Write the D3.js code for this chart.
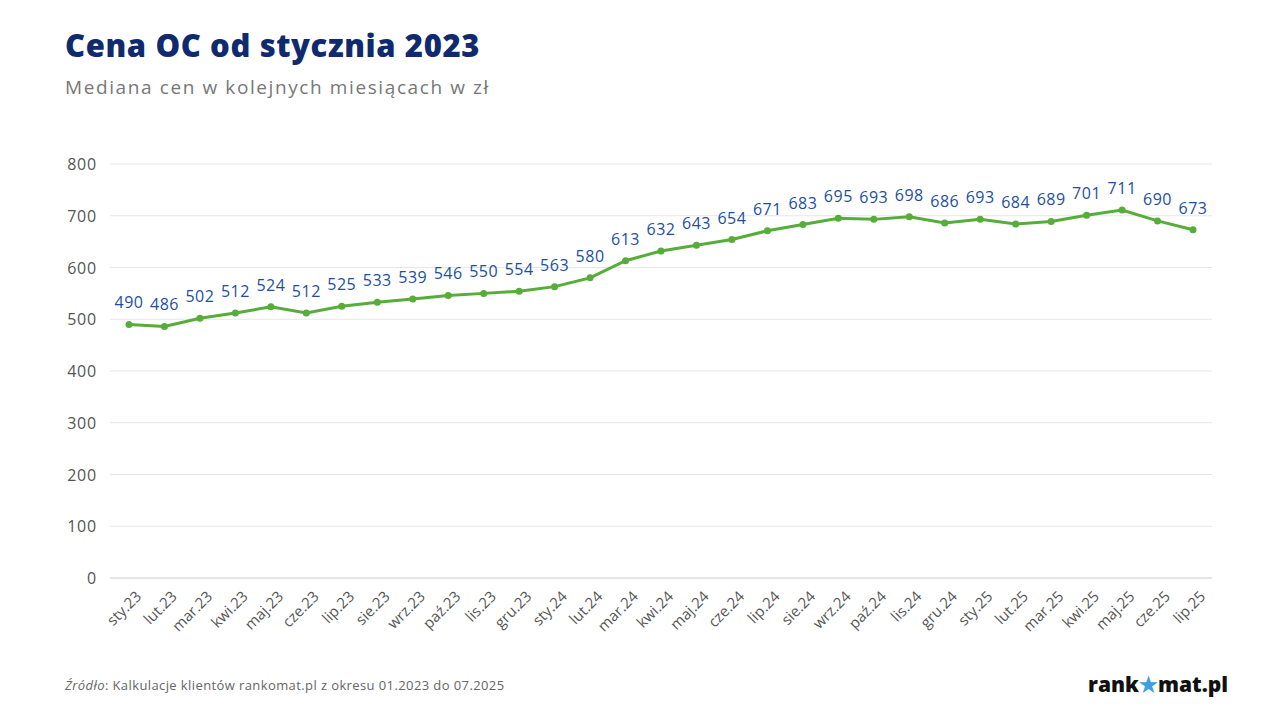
<!DOCTYPE html><html><head><meta charset="utf-8"><script src="https://cdn.jsdelivr.net/npm/d3@7"></script>
<style>body{margin:0;background:#fff;font-family:Montserrat,"Open Sans",sans-serif}</style></head><body><svg id="c" width="1280" height="720"></svg><script>
const months=["sty.23","lut.23","mar.23","kwi.23","maj.23","cze.23","lip.23","sie.23","wrz.23","paź.23","lis.23","gru.23","sty.24","lut.24","mar.24","kwi.24","maj.24","cze.24","lip.24","sie.24","wrz.24","paź.24","lis.24","gru.24","sty.25","lut.25","mar.25","kwi.25","maj.25","cze.25","lip.25"];
const values=[490,486,502,512,524,512,525,533,539,546,550,554,563,580,613,632,643,654,671,683,695,693,698,686,693,684,689,701,711,690,673];
const yTicks=[0,100,200,300,400,500,600,700,800];
const svg=d3.select("#c");
const F="'Open Sans',sans-serif";
svg.append("text").attr("x",65).attr("y",57).text("Cena OC od stycznia 2023").attr("font-family",F).attr("font-weight",800).attr("font-size",31).attr("letter-spacing",0.6).attr("fill","#0f2a6e");
svg.append("text").attr("x",65).attr("y",94).text("Mediana cen w kolejnych miesiącach w zł").attr("font-family",F).attr("font-size",19).attr("letter-spacing",1.6).attr("fill","#777");
const x=d3.scalePoint().domain(months).range([129,1193]);
const y=d3.scaleLinear().domain([0,800]).range([578,164]);
const g=svg.append("g");
yTicks.forEach(t=>{g.append("line").attr("x1",110).attr("x2",1212).attr("y1",y(t)).attr("y2",y(t)).attr("stroke",t===0?"#ccc":"#e6e6e6");
g.append("text").attr("x",97).attr("y",y(t)+6).attr("text-anchor","end").text(t).attr("font-family",F).attr("font-size",16).attr("letter-spacing",0.8).attr("fill","#555");});
months.forEach(m=>{g.append("text").attr("transform",`translate(${x(m)+6},${590}) rotate(-45)`).attr("text-anchor","end").attr("dy","0.7em").text(m).attr("font-family",F).attr("font-size",15).attr("fill","#555");});
g.append("path").datum(values).attr("d",d3.line().x((d,i)=>x(months[i])).y(d=>y(d))).attr("fill","none").attr("stroke","#56ad3a").attr("stroke-width",3);
values.forEach((v,i)=>{g.append("circle").attr("cx",x(months[i])).attr("cy",y(v)).attr("r",3.5).attr("fill","#56ad3a");
g.append("text").attr("x",x(months[i])).attr("y",y(v)-16).attr("text-anchor","middle").text(v).attr("font-family",F).attr("font-size",16).attr("letter-spacing",0.5).attr("fill","#1d4fa0");});
const s=svg.append("text").attr("x",65).attr("y",690).attr("font-family",F).attr("font-size",13).attr("letter-spacing",0.4).attr("fill","#666");
s.append("tspan").attr("font-style","italic").text("Źródło");s.append("tspan").text(": Kalkulacje klientów rankomat.pl z okresu 01.2023 do 07.2025");
const l=svg.append("text").attr("x",1228).attr("y",692).attr("text-anchor","end").attr("font-family",F).attr("font-weight",800).attr("font-size",21).attr("fill","#111");
l.append("tspan").text("rank");l.append("tspan").attr("fill","#3aa0e0").text("★");l.append("tspan").text("mat.pl");
</script></body></html>
